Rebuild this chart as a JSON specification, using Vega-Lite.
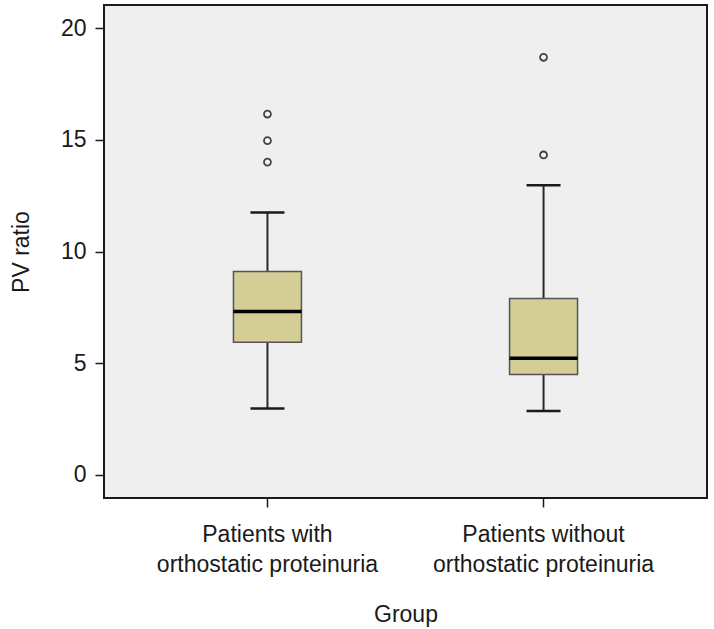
{
  "$schema": "https://vega.github.io/schema/vega-lite/v6.json",
  "width": 603,
  "height": 493,
  "autosize": {"type": "none"},
  "padding": {"left": 104, "top": 5, "right": 7, "bottom": 131},
  "background": "#ffffff",
  "config": {
    "view": {"fill": "#efefef", "stroke": "#1a1a1a", "strokeWidth": 2},
    "font": "Liberation Sans",
    "axis": {
      "labelFont": "Liberation Sans",
      "titleFont": "Liberation Sans",
      "labelColor": "#1a1a1a",
      "titleColor": "#1a1a1a",
      "titleFontWeight": "normal",
      "labelFontSize": 23,
      "titleFontSize": 23,
      "labelLimit": 500,
      "grid": false,
      "domain": false,
      "tickColor": "#1a1a1a",
      "tickWidth": 1.5
    }
  },
  "datasets": {
    "summary": [
      {"group": "Patients with|orthostatic proteinuria", "lower": 2.98, "q1": 5.94, "median": 7.31, "q3": 9.10, "upper": 11.74},
      {"group": "Patients without|orthostatic proteinuria", "lower": 2.86, "q1": 4.50, "median": 5.22, "q3": 7.90, "upper": 12.96}
    ],
    "outliers": [
      {"group": "Patients with|orthostatic proteinuria", "value": 16.15},
      {"group": "Patients with|orthostatic proteinuria", "value": 14.96},
      {"group": "Patients with|orthostatic proteinuria", "value": 14.0},
      {"group": "Patients without|orthostatic proteinuria", "value": 18.69},
      {"group": "Patients without|orthostatic proteinuria", "value": 14.32}
    ]
  },
  "encoding": {
    "x": {
      "field": "group",
      "type": "nominal",
      "sort": null,
      "scale": {"type": "band", "paddingInner": 0.5, "paddingOuter": 0.342},
      "axis": {
        "title": "Group",
        "labelAngle": 0,
        "tickSize": 9,
        "labelPadding": 16,
        "labelLineHeight": 30,
        "titlePadding": 27,
        "labelExpr": "split(datum.label, '|')"
      }
    }
  },
  "layer": [
    {
      "data": {"name": "summary"},
      "mark": {"type": "rule", "color": "#2a2a2a", "strokeWidth": 2},
      "encoding": {
        "y": {
          "field": "lower",
          "type": "quantitative",
          "scale": {"domain": [-1.03, 21.03], "nice": false, "zero": false},
          "axis": {"title": "PV ratio", "values": [0, 5, 10, 15, 20], "tickSize": 9, "labelPadding": 9, "titlePadding": 27}
        },
        "y2": {"field": "upper"}
      }
    },
    {
      "data": {"name": "summary"},
      "mark": {"type": "bar", "size": 68, "fill": "#d4cd96", "stroke": "#555555", "strokeWidth": 1.5},
      "encoding": {
        "y": {"field": "q1", "type": "quantitative"},
        "y2": {"field": "q3"}
      }
    },
    {
      "data": {"name": "summary"},
      "mark": {"type": "tick", "size": 68, "thickness": 3.5, "color": "#000000", "opacity": 1},
      "encoding": {"y": {"field": "median", "type": "quantitative"}}
    },
    {
      "data": {"name": "summary"},
      "mark": {"type": "tick", "size": 34, "thickness": 2.5, "color": "#1a1a1a", "opacity": 1},
      "encoding": {"y": {"field": "upper", "type": "quantitative"}}
    },
    {
      "data": {"name": "summary"},
      "mark": {"type": "tick", "size": 34, "thickness": 2.5, "color": "#1a1a1a", "opacity": 1},
      "encoding": {"y": {"field": "lower", "type": "quantitative"}}
    },
    {
      "data": {"name": "outliers"},
      "mark": {"type": "point", "shape": "circle", "size": 48, "filled": false, "fill": "#f4f4f4", "stroke": "#444444", "strokeWidth": 1.8, "opacity": 1},
      "encoding": {"y": {"field": "value", "type": "quantitative"}}
    }
  ]
}
